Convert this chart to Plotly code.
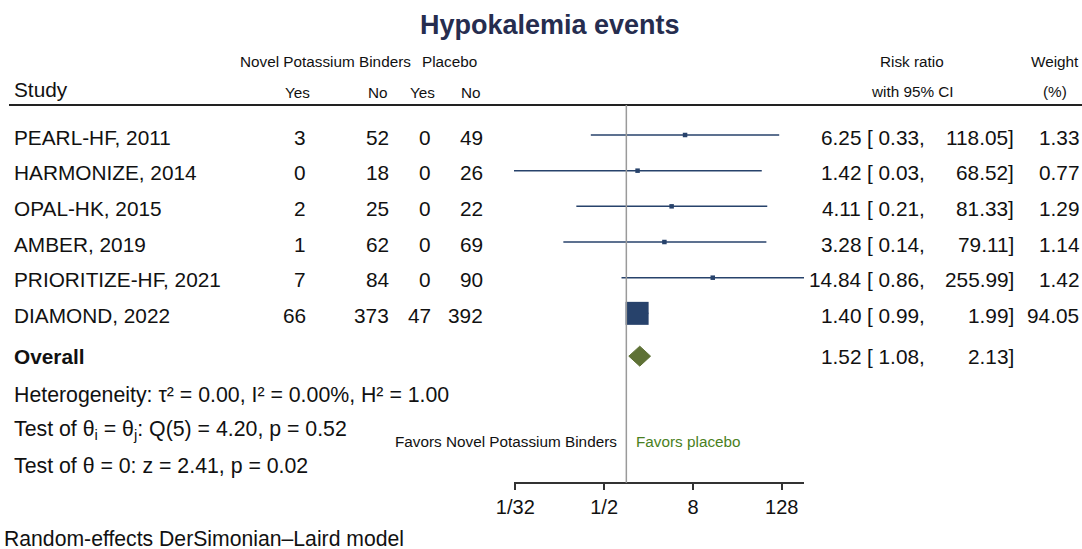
import math
import plotly.graph_objects as go

# ---- data -------------------------------------------------------------
studies = ["PEARL-HF, 2011", "HARMONIZE, 2014", "OPAL-HK, 2015",
           "AMBER, 2019", "PRIORITIZE-HF, 2021", "DIAMOND, 2022"]
trt_yes = [3, 0, 2, 1, 7, 66]
trt_no = [52, 18, 25, 62, 84, 373]
pbo_yes = [0, 0, 0, 0, 0, 47]
pbo_no = [49, 26, 22, 69, 90, 392]
rr = [6.25, 1.42, 4.11, 3.28, 14.84, 1.40]
ci_lo = [0.33, 0.03, 0.21, 0.14, 0.86, 0.99]
ci_hi = [118.05, 68.52, 81.33, 79.11, 255.99, 1.99]
weight = [1.33, 0.77, 1.29, 1.14, 1.42, 94.05]
overall_rr = 1.52
overall_lo = 1.08
overall_hi = 2.13
tick_vals = [1 / 32, 1 / 2, 8, 128]
tick_text = ["1/32", "1/2", "8", "128"]

# ---- layout helpers ---------------------------------------------------
W, H = 1082, 549
FONT = "Liberation Sans, Arial, Helvetica, sans-serif"
NAVY = "#27426b"
OLIVE = "#5e7135"
ROW0_PX, ROW_STEP = 135.0, 35.67      # pixel centre of first row, row spacing
OVERALL_ROW = 6.2                      # vertical slot of the pooled estimate
BODY = 20.8                            # body text size
SMALL = 15.3                           # column header size


def px_x(x):
    return x / W


def px_y(y):
    return 1 - y / H


annotations = []


def add_text(x, y, s, anchor="left", size=BODY, color="#111111", yref="paper",
             bold=False, yshift=0):
    annotations.append(dict(
        x=px_x(x), y=px_y(y) if yref == "paper" else y,
        xref="paper", yref=yref, text=f"<b>{s}</b>" if bold else s,
        showarrow=False, xanchor=anchor, yanchor="middle", yshift=yshift,
        borderpad=0, font=dict(family=FONT, size=size, color=color)))


fig = go.Figure()

# confidence interval whiskers
xs, ys = [], []
for i in range(len(studies)):
    xs += [ci_lo[i], ci_hi[i], None]
    ys += [i, i, None]
fig.add_trace(go.Scatter(x=xs, y=ys, mode="lines",
                         line=dict(color=NAVY, width=1.5),
                         hoverinfo="skip", showlegend=False))

# study weight squares
wmax = max(weight)
sizes = [max(4.5, 23.0 * math.sqrt(w / wmax)) for w in weight]
fig.add_trace(go.Scatter(x=rr, y=list(range(len(studies))), mode="markers",
                         marker=dict(symbol="square", size=sizes, color=NAVY,
                                     opacity=1, line=dict(width=0)),
                         showlegend=False))

# pooled estimate diamond
half_h = 0.28
fig.add_trace(go.Scatter(
    x=[overall_lo, overall_rr, overall_hi, overall_rr, overall_lo],
    y=[OVERALL_ROW, OVERALL_ROW - half_h, OVERALL_ROW,
       OVERALL_ROW + half_h, OVERALL_ROW],
    mode="lines", fill="toself", fillcolor=OLIVE,
    line=dict(color=OLIVE, width=1), showlegend=False))

# ---- text -------------------------------------------------------------
add_text(550, 25, "Hypokalemia events", anchor="center", size=27,
         color="#262d4f", bold=True)

add_text(239, 62, "Novel Potassium Binders", size=SMALL)
add_text(478, 62, "Placebo", anchor="right", size=SMALL)
add_text(13, 89, "Study", size=BODY)
for x, s in [(311, "Yes"), (389, "No"), (436, "Yes"), (482, "No")]:
    add_text(x, 92, s, anchor="right", size=SMALL)
add_text(912, 62, "Risk ratio", anchor="center", size=SMALL)
add_text(912, 91, "with 95% CI", anchor="center", size=SMALL)
add_text(1055, 62, "Weight", anchor="center", size=SMALL)
add_text(1055, 91, "(%)", anchor="center", size=SMALL)

for i, name in enumerate(studies):
    add_text(13, i, name, yref="y", yshift=-2)
    add_text(307, i, str(trt_yes[i]), anchor="right", yref="y", yshift=-2)
    add_text(390, i, str(trt_no[i]), anchor="right", yref="y", yshift=-2)
    add_text(432, i, str(pbo_yes[i]), anchor="right", yref="y", yshift=-2)
    add_text(484, i, str(pbo_no[i]), anchor="right", yref="y", yshift=-2)
    add_text(862, i, f"{rr[i]:.2f}", anchor="right", yref="y", yshift=-2)
    add_text(866, i, f"[ {ci_lo[i]:.2f},", yref="y", yshift=-2)
    add_text(1015, i, f"{ci_hi[i]:.2f}]", anchor="right", yref="y", yshift=-2)
    add_text(1080, i, f"{weight[i]:.2f}", anchor="right", yref="y", yshift=-2)

add_text(13, OVERALL_ROW, "Overall", yref="y", bold=True)
add_text(862, OVERALL_ROW, f"{overall_rr:.2f}", anchor="right", yref="y")
add_text(866, OVERALL_ROW, f"[ {overall_lo:.2f},", yref="y")
add_text(1015, OVERALL_ROW, f"{overall_hi:.2f}]", anchor="right", yref="y")

add_text(13, 395, "Heterogeneity: τ² = 0.00, I² = 0.00%, H² = 1.00", size=21.3)
add_text(13, 430, "Test of θ<sub>i</sub> = θ<sub>j</sub>: Q(5) = 4.20, p = 0.52",
         size=21.3)
add_text(13, 466, "Test of θ = 0: z = 2.41, p = 0.02", size=21.3)
add_text(618, 441, "Favors Novel Potassium Binders", anchor="right", size=SMALL)
add_text(635, 441, "Favors placebo", size=SMALL, color="#4a7f22")
add_text(3, 538, "Random-effects DerSimonian–Laird model", size=21.2)

# ---- axes and rules ---------------------------------------------------
axis_px = 482.7
y_top = (0 - ROW0_PX) / ROW_STEP
y_bot = (H - ROW0_PX) / ROW_STEP

shapes = [
    # rule under the column headers
    dict(type="line", xref="paper", yref="paper", x0=px_x(9), x1=1.0,
         y0=px_y(105), y1=px_y(105), line=dict(color="#222222", width=2)),
    # line of no effect
    dict(type="line", xref="x", yref="paper", x0=1, x1=1,
         y0=px_y(axis_px), y1=px_y(105), line=dict(color="#9a9a9a", width=1.5)),
]

fig.update_layout(
    template="none",
    width=W, height=H, margin=dict(l=0, r=0, t=0, b=0, pad=0, autoexpand=False),
    paper_bgcolor="white", plot_bgcolor="white",
    showlegend=False, annotations=annotations, shapes=shapes,
    xaxis=dict(type="log", domain=[px_x(514), px_x(804)],
               range=[math.log10(0.03), math.log10(256)],
               anchor="free", position=px_y(axis_px), automargin=False,
               showgrid=False, zeroline=False, showline=True,
               linecolor="#333333", linewidth=1.5,
               ticks="outside", ticklen=7, tickwidth=1.5, tickcolor="#333333",
               tickvals=tick_vals, ticktext=tick_text,
               tickfont=dict(family=FONT, size=20, color="#111111")),
    yaxis=dict(domain=[0, 1], range=[y_bot, y_top], visible=False,
               automargin=False),
)

fig.write_html("out.html")
